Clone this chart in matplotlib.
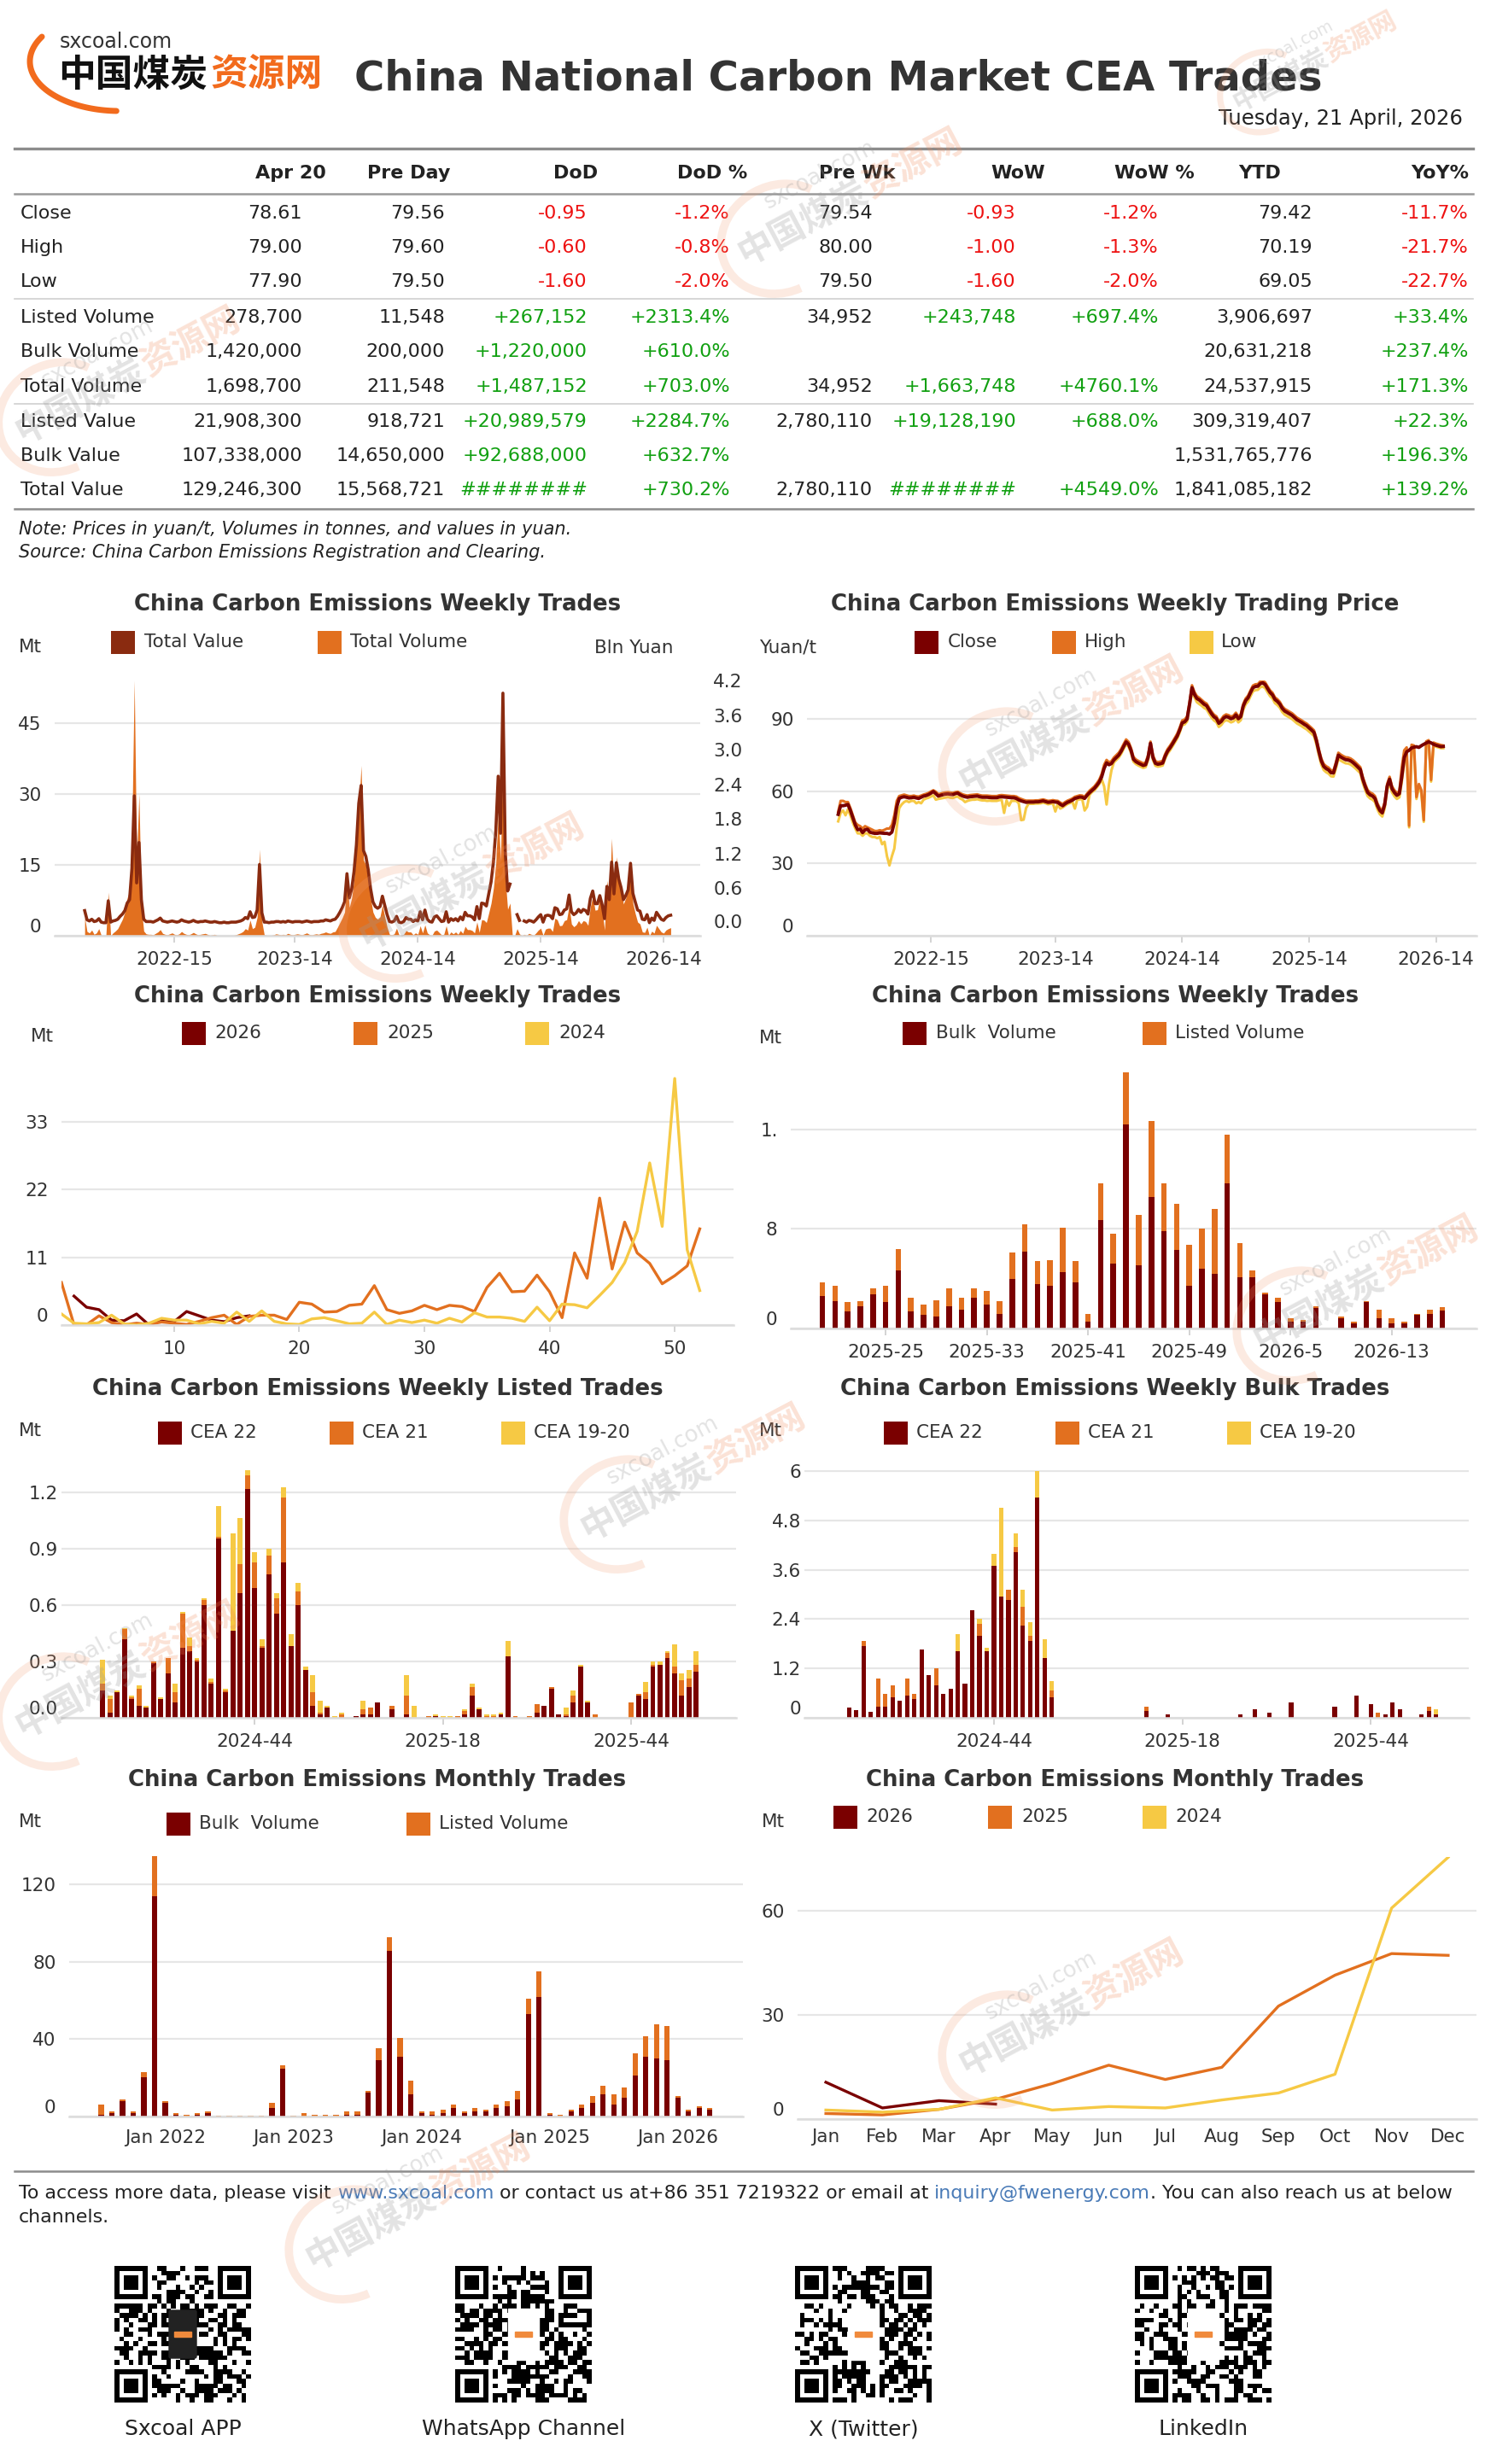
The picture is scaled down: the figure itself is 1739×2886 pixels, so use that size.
#!/usr/bin/env python3
import datetime
import hashlib

import matplotlib
matplotlib.use("Agg")
import matplotlib.pyplot as plt
import numpy as np
from matplotlib import patches

W, H = 1740, 2886
DARK = "#7a0000"
ORANGE = "#e2701f"
YELLOW = "#f6c944"
BROWN = "#8a2b10"
TEXT = "#333333"
GRID = "#e6e6e6"
RED = "#ee1111"
GREEN = "#11a011"
CJK = ["Noto Sans CJK SC", "DejaVu Sans"]

plt.rcParams["font.family"] = ["DejaVu Sans"]

# ---------------- table ----------------
table_columns = ["Apr 20", "Pre Day", "DoD", "DoD %", "Pre Wk", "WoW", "WoW %", "YTD", "YoY%"]
table_rows = ["Close", "High", "Low", "Listed Volume", "Bulk Volume", "Total Volume",
              "Listed Value", "Bulk Value", "Total Value"]
table_values = [
    ["78.61", "79.56", "-0.95", "-1.2%", "79.54", "-0.93", "-1.2%", "79.42", "-11.7%"],
    ["79.00", "79.60", "-0.60", "-0.8%", "80.00", "-1.00", "-1.3%", "70.19", "-21.7%"],
    ["77.90", "79.50", "-1.60", "-2.0%", "79.50", "-1.60", "-2.0%", "69.05", "-22.7%"],
    ["278,700", "11,548", "+267,152", "+2313.4%", "34,952", "+243,748", "+697.4%", "3,906,697", "+33.4%"],
    ["1,420,000", "200,000", "+1,220,000", "+610.0%", "", "", "", "20,631,218", "+237.4%"],
    ["1,698,700", "211,548", "+1,487,152", "+703.0%", "34,952", "+1,663,748", "+4760.1%", "24,537,915", "+171.3%"],
    ["21,908,300", "918,721", "+20,989,579", "+2284.7%", "2,780,110", "+19,128,190", "+688.0%", "309,319,407", "+22.3%"],
    ["107,338,000", "14,650,000", "+92,688,000", "+632.7%", "", "", "", "1,531,765,776", "+196.3%"],
    ["129,246,300", "15,568,721", "########", "+730.2%", "2,780,110", "########", "+4549.0%", "1,841,085,182", "+139.2%"],
]

# ---------------- weekly series (2021-29 .. 2026-17) ----------------
start_week = datetime.date(2021, 7, 19)
week_labels = []
for i in range(249):
    iso = (start_week + datetime.timedelta(weeks=i)).isocalendar()
    week_labels.append(f"{iso[0]}-{iso[1]}")

# total volume, Mt, 2021-29 .. 2023-52
vol_2021_23 = [
    3.9, 0.9, 0.6, 1.2, 0.3, 0.6, 1.5, 0.1, 0.0, 0.0,
    9.2, 0.0, 0.6, 1.0, 1.5, 2.5, 3.5, 5.0, 8.0, 9.5,
    22.0, 54.0, 16.0, 30.0, 6.0, 1.0, 0.4, 0.3, 0.3, 0.2,
    0.5, 0.8, 1.3, 0.5, 0.3, 0.2, 0.4, 0.6, 0.3, 0.2,
    0.4, 0.9, 0.5, 0.3, 0.2, 0.4, 0.7, 0.4, 0.2, 0.3,
    0.4, 0.5, 0.3, 0.1, 0.2, 0.3, 0.1, 0.0, 0.0, 0.1,
    0.0, 0.0, 0.1, 0.1, 0.2, 0.4, 0.6, 0.9, 1.5, 1.2,
    3.3, 1.5, 1.8, 3.9, 18.3, 3.0, 0.2, 0.1, 0.0, 0.1,
    0.2, 0.4, 0.3, 0.2, 0.3, 0.2, 0.5, 0.3, 0.2, 0.3,
    0.4, 0.3, 0.2, 0.4, 0.6, 0.3, 0.2, 0.3, 0.4, 0.3,
    0.5, 0.6, 0.8, 0.6, 0.5, 0.8, 0.9, 1.8, 2.8, 3.8,
    5.0, 12.0, 6.0, 8.0, 12.0, 18.0, 27.0, 36.0, 16.0, 15.0,
    12.0, 8.0, 5.0, 3.9, 3.5, 4.0, 6.5, 4.0,
]
# weekly volume by ISO week, Mt
vol_2024 = [
    1.8, 0.3, 0.2, 0.4, 1.6, 0.2, 0.0, 0.3, 1.1, 0.8,
    0.8, 0.2, 0.6, 0.3, 2.1, 0.6, 2.3, 0.6, 0.2, 0.1,
    1.0, 1.2, 0.7, 0.2, 0.3, 2.1, 0.1, 0.8, 0.4, 0.8,
    0.3, 1.1, 0.5, 2.0, 1.3, 1.3, 1.1, 0.6, 2.9, 0.7,
    3.4, 3.3, 2.8, 4.8, 6.9, 10.1, 15.2, 26.3, 16.0, 40.0,
    12.2, 5.6,
]
vol_2025_early = [6.9, 0.05, 0.05, 1.5, 0.4, 0.05, 0.3, 0.1, 0.5, 0.3,
                  0.1, 0.6, 1.2, 1.6, 0.1, 1.4, 1.6, 1.6, 0.9]
# 2025-20 .. 2026-17, Mt
bulk_recent = [
    2.6, 2.2, 1.4, 1.8, 2.75, 2.1, 4.7, 1.4, 1.1, 0.96,
    1.8, 1.5, 2.5, 1.9, 1.2, 4.0, 6.2, 3.6, 3.4, 4.5,
    3.7, 0.55, 8.7, 5.2, 16.4, 5.1, 10.6, 7.8, 6.3, 3.4,
    4.8, 4.4, 11.7, 4.1, 4.1, 2.75, 2.1, 0.55, 0.55, 1.65,
    0.0, 0.8, 0.4, 2.1, 0.8, 0.4, 0.4, 1.1, 1.2, 1.42,
]
listed_recent = [
    1.1, 1.2, 0.7, 0.4, 0.45, 1.3, 1.7, 1.1, 0.8, 1.34,
    1.4, 1.0, 0.7, 1.1, 1.0, 2.1, 2.2, 1.8, 2.1, 3.6,
    1.7, 0.65, 3.0, 2.4, 4.2, 4.0, 6.1, 3.9, 3.7, 3.3,
    3.2, 5.2, 3.9, 2.8, 0.6, 0.15, 0.4, 0.25, 0.15, 0.15,
    0.0, 0.16, 0.15, 0.1, 0.7, 0.4, 0.15, 0.1, 0.3, 0.28,
]
# total value, bln yuan
value_2021_23 = [
    0.21, 0.05, 0.03, 0.06, 0.02, 0.03, 0.07, 0.01, 0.0, 0.0,
    0.38, 0.01, 0.03, 0.04, 0.06, 0.11, 0.15, 0.21, 0.34, 0.40,
    0.94, 2.2, 0.69, 1.39, 0.40, 0.06, 0.02, 0.02, 0.02, 0.01,
    0.03, 0.05, 0.08, 0.03, 0.02, 0.01, 0.02, 0.03, 0.02, 0.01,
    0.02, 0.05, 0.03, 0.02, 0.01, 0.02, 0.04, 0.02, 0.01, 0.02,
    0.02, 0.03, 0.02, 0.01, 0.01, 0.02, 0.01, 0.0, 0.0, 0.01,
    0.0, 0.0, 0.01, 0.01, 0.01, 0.02, 0.03, 0.05, 0.09, 0.07,
    0.19, 0.09, 0.10, 0.22, 1.01, 0.17, 0.01, 0.01, 0.0, 0.01,
    0.01, 0.02, 0.02, 0.01, 0.02, 0.01, 0.03, 0.02, 0.01, 0.02,
    0.02, 0.02, 0.01, 0.02, 0.03, 0.02, 0.01, 0.02, 0.02, 0.02,
    0.03, 0.03, 0.05, 0.04, 0.03, 0.05, 0.06, 0.11, 0.18, 0.26,
    0.36, 0.85, 0.43, 0.58, 0.89, 1.35, 2.07, 2.38, 1.25, 1.15,
    0.92, 0.59, 0.36, 0.28, 0.25, 0.28, 0.46, 0.30,
]
value_2024 = [
    0.14, 0.02, 0.01, 0.03, 0.11, 0.01, 0.0, 0.02, 0.09, 0.06,
    0.06, 0.02, 0.05, 0.03, 0.19, 0.05, 0.22, 0.06, 0.02, 0.01,
    0.10, 0.12, 0.07, 0.02, 0.03, 0.19, 0.01, 0.07, 0.04, 0.07,
    0.03, 0.10, 0.05, 0.18, 0.12, 0.12, 0.10, 0.05, 0.28, 0.07,
    0.34, 0.33, 0.29, 0.50, 0.71, 1.06, 1.60, 2.54, 1.55, 3.98,
    1.22, 0.55,
]
value_2025_early = [0.67, None, None, 0.14, 0.04, None, 0.03, 0.01, 0.04, 0.03,
                    0.01, 0.05, 0.10, 0.14, 0.01, 0.12, 0.13, 0.12, 0.07]
value_recent = [
    0.26, 0.24, 0.14, 0.15, 0.22, 0.24, 0.48, 0.19, 0.14, 0.17,
    0.23, 0.18, 0.23, 0.21, 0.15, 0.42, 0.55, 0.33, 0.33, 0.47,
    0.31, 0.07, 0.63, 0.40, 1.05, 0.50, 1.04, 0.76, 0.61, 0.40,
    0.47, 0.57, 1.03, 0.51, 0.36, 0.22, 0.20, 0.06, 0.05, 0.14,
    0.0, 0.08, 0.04, 0.18, 0.12, 0.06, 0.04, 0.09, 0.12, 0.13,
]
# weekly prices, yuan/t
close_px = [
    50.4, 54.0, 54.0, 54.2, 54.5, 52.0, 49.0, 46.0, 44.0, 44.3,
    42.8, 44.0, 44.2, 43.0, 42.7, 42.5, 42.5, 42.7, 42.6, 42.5,
    42.5, 42.2, 43.0, 47.0, 53.5, 57.0, 57.5, 57.7, 57.5, 57.2,
    57.3, 57.5, 57.2, 57.0, 57.5, 58.0, 58.2, 58.6, 59.2, 59.9,
    59.0, 58.0, 58.3, 58.6, 58.8, 58.9, 58.7, 58.6, 59.0, 59.2,
    58.5, 58.0, 57.7, 57.5, 57.7, 57.8, 57.9, 58.0, 57.7, 57.5,
    57.5, 57.5, 57.4, 57.3, 57.3, 57.3, 57.6, 57.7, 57.6, 57.5,
    57.4, 57.3, 57.3, 57.0, 56.4, 56.0, 55.7, 55.4, 55.5, 55.5,
    55.5, 55.6, 55.6, 55.8, 56.0, 55.7, 55.4, 55.5, 55.7, 55.5,
    55.4, 54.6, 54.0, 54.8, 55.4, 55.8, 56.3, 57.0, 57.3, 57.6,
    57.5, 57.0, 58.3, 59.4, 60.3, 61.2, 62.4, 63.8, 66.0, 69.5,
    71.8, 71.0, 71.5, 73.0, 74.0, 75.0, 76.6, 78.6, 80.5, 79.5,
    77.0, 73.3, 72.3, 71.7, 71.2, 70.7, 71.0, 74.0, 79.9, 74.0,
    71.6, 71.2, 71.4, 71.7, 74.5, 76.6, 78.0, 79.6, 81.3, 83.0,
    85.5, 88.4, 88.8, 90.0, 96.0, 103.0, 100.2, 98.5, 97.9, 97.0,
    96.1, 95.5, 93.8, 92.2, 90.9, 90.2, 88.2, 89.0, 90.4, 91.0,
    90.7, 90.1, 90.5, 91.7, 90.1, 91.0, 95.3, 97.6, 98.8, 101.0,
    103.0, 103.5, 103.6, 104.7, 105.0, 104.3, 102.6, 101.0, 100.0, 98.1,
    97.3, 96.2, 94.4, 93.3, 92.7, 92.1, 91.5, 90.6, 89.7, 89.1,
    88.5, 87.8, 87.2, 86.3, 85.4, 84.4, 81.0, 76.5, 72.6, 70.3,
    69.4, 68.8, 67.7, 67.6, 71.0, 75.0, 74.2, 73.6, 73.1, 73.0,
    72.6, 71.9, 71.0, 70.0, 69.0, 65.0, 62.0, 59.5, 58.5, 58.0,
    57.0, 54.0, 52.0, 51.0, 54.5, 62.0, 65.0, 61.0, 59.4, 58.3,
    59.0, 66.0, 74.0, 76.4, 77.0, 78.0, 78.3, 78.5, 78.2, 78.9,
    79.5, 80.0, 80.5, 80.1, 79.5, 79.1, 78.8, 78.5, 78.6,
]
high_px = [
    51.5, 56.0, 56.0, 55.5, 55.5, 53.0, 50.0, 47.0, 46.0, 45.5,
    44.5, 45.5, 45.0, 44.5, 44.0, 43.5, 43.5, 43.8, 43.6, 44.0,
    44.5, 44.5, 46.0, 50.0, 56.0, 58.0, 58.3, 58.6, 58.3, 58.0,
    58.0, 58.2, 57.9, 57.8, 58.2, 58.6, 58.9, 59.3, 59.9, 60.4,
    59.8, 58.8, 59.0, 59.3, 59.5, 59.6, 59.4, 59.3, 59.6, 59.8,
    59.2, 58.7, 58.4, 58.2, 58.4, 58.5, 58.6, 58.7, 58.4, 58.2,
    58.2, 58.2, 58.1, 58.0, 58.0, 58.0, 58.3, 58.4, 58.3, 58.2,
    58.1, 58.0, 58.0, 57.8, 57.2, 56.8, 56.4, 56.1, 56.1, 56.1,
    56.1, 56.2, 56.2, 56.4, 56.6, 56.3, 56.0, 56.1, 56.3, 56.1,
    56.0, 55.3, 54.8, 55.5, 56.1, 56.5, 57.0, 57.7, 58.0, 58.3,
    58.2, 57.7, 59.0, 60.2, 61.1, 62.0, 63.3, 64.8, 67.2, 71.0,
    73.0, 72.0, 72.5, 74.0, 75.0, 76.0, 77.6, 79.6, 81.5, 80.5,
    78.0, 74.3, 73.2, 72.6, 72.1, 71.6, 71.9, 75.0, 80.6, 75.0,
    72.5, 72.1, 72.3, 72.6, 75.4, 77.5, 78.9, 80.5, 82.2, 84.0,
    86.5, 89.4, 89.8, 91.0, 97.0, 104.0, 101.2, 99.5, 98.8, 97.9,
    97.0, 96.4, 94.7, 93.1, 91.8, 91.1, 89.1, 89.9, 91.3, 91.9,
    91.6, 91.0, 91.4, 92.6, 91.0, 91.9, 96.2, 98.5, 99.7, 101.9,
    103.9, 104.4, 104.5, 105.6, 105.9, 105.2, 103.5, 101.9, 100.9, 99.0,
    98.2, 97.1, 95.3, 94.2, 93.6, 93.0, 92.4, 91.5, 90.6, 90.0,
    89.4, 88.7, 88.1, 87.2, 86.3, 85.3, 82.0, 77.5, 73.6, 71.3,
    70.4, 69.8, 68.7, 68.6, 72.0, 76.0, 75.2, 74.6, 74.1, 74.0,
    73.6, 72.9, 72.0, 71.0, 70.0, 66.0, 63.0, 60.5, 59.5, 59.0,
    58.0, 55.0, 53.0, 52.0, 55.5, 63.0, 66.0, 62.0, 60.4, 59.3,
    60.0, 70.0, 77.0, 78.2, 45.7, 79.3, 79.0, 57.6, 63.0, 60.5,
    48.0, 80.7, 81.2, 64.7, 80.2, 79.8, 79.5, 79.2, 79.0,
]
low_px = [
    47.5, 51.0, 52.0, 50.0, 52.5, 50.0, 47.0, 44.5, 42.5, 42.5,
    41.5, 42.5, 42.5, 41.5, 41.0, 41.0, 40.5, 41.0, 38.0, 39.0,
    33.0, 29.2, 33.0, 36.2, 45.0, 53.0, 54.5, 55.5, 56.0, 55.5,
    56.0, 56.0, 55.0, 55.5, 55.0, 56.5, 57.0, 57.3, 57.8, 58.3,
    56.5, 56.8, 57.0, 57.2, 57.4, 57.6, 57.3, 57.2, 57.6, 57.8,
    57.0, 56.5, 55.5, 56.0, 56.3, 56.5, 56.5, 56.7, 56.4, 56.2,
    56.2, 56.0, 56.1, 56.0, 56.0, 56.0, 56.3, 56.4, 51.0, 56.2,
    54.0, 56.0, 56.0, 56.0, 55.0, 48.0, 48.2, 53.0, 54.8, 54.8,
    54.8, 54.9, 54.9, 55.0, 55.3, 55.0, 54.6, 54.8, 55.0, 51.6,
    54.7, 52.8, 53.3, 54.0, 54.7, 55.1, 55.6, 52.8, 56.6, 56.6,
    56.8, 52.0, 53.5, 58.5, 59.6, 60.4, 61.6, 63.0, 65.0, 62.0,
    54.5, 63.0, 68.7, 72.0, 73.0, 74.0, 75.6, 77.6, 79.5, 78.5,
    76.0, 72.3, 71.3, 70.7, 70.2, 69.7, 70.0, 73.0, 78.9, 73.0,
    70.6, 70.2, 70.4, 70.7, 73.5, 75.6, 77.0, 78.6, 80.3, 82.0,
    84.5, 87.4, 87.8, 89.0, 95.0, 101.5, 99.0, 97.0, 96.2, 95.5,
    94.6, 94.0, 92.3, 90.7, 89.4, 88.7, 86.7, 87.5, 88.9, 89.5,
    89.2, 88.6, 89.0, 90.2, 88.6, 89.5, 93.8, 96.1, 97.3, 99.5,
    101.5, 102.0, 102.1, 103.2, 103.5, 102.8, 101.1, 99.5, 98.5, 96.6,
    95.8, 94.7, 92.9, 91.8, 91.2, 90.6, 90.0, 89.1, 88.2, 87.6,
    87.0, 86.3, 85.7, 84.8, 83.9, 82.9, 79.5, 75.0, 71.1, 68.8,
    67.9, 67.3, 66.2, 66.1, 69.5, 73.5, 72.7, 72.1, 71.6, 71.5,
    71.1, 70.4, 69.5, 68.5, 67.5, 63.5, 60.5, 58.0, 57.0, 56.5,
    55.5, 52.5, 50.5, 49.5, 53.0, 60.5, 63.5, 59.5, 57.9, 56.8,
    57.5, 64.0, 72.0, 75.5, 45.0, 76.5, 77.3, 56.8, 61.5, 59.4,
    47.3, 79.5, 80.0, 64.0, 79.0, 78.5, 78.2, 77.9, 77.9,
]

# ---------------- vintages 2024-23 .. 2026-01 (Mt) ----------------
cea22_listed = [
    0.145, 0.027, 0.136, 0.418, 0.1, 0.064, 0.055, 0.29, 0.1, 0.236,
    0.082, 0.373, 0.355, 0.3, 0.6, 0.182, 0.955, 0.136, 0.464, 0.664,
    1.218, 0.691, 0.373, 0.764, 0.555, 0.827, 0.382, 0.6, 0.255, 0.064,
    0.018, 0.055, 0, 0, 0, 0.009, 0.018, 0.018, 0.082, 0,
    0.045, 0, 0.018, 0, 0, 0, 0.009, 0, 0, 0,
    0.018, 0.118, 0.045, 0, 0, 0.018, 0.327, 0, 0, 0,
    0.027, 0.064, 0.155, 0.018, 0.009, 0.082, 0.273, 0.082, 0, 0,
    0, 0, 0, 0, 0.118, 0.1, 0.273, 0.282, 0.318, 0.236,
    0.118, 0.164, 0.245,
]
cea21_listed = [
    0.035, 0.073, 0, 0.055, 0.009, 0.091, 0, 0.01, 0, 0.082,
    0.054, 0.182, 0.027, 0.009, 0.027, 0.009, 0.009, 0.009, 0, 0.154,
    0.073, 0.136, 0.009, 0.1, 0.081, 0.346, 0, 0.073, 0, 0.072,
    0.009, 0, 0, 0.018, 0, 0, 0.027, 0.037, 0, 0,
    0.019, 0, 0.1, 0, 0, 0.009, 0, 0, 0, 0.009,
    0.018, 0.046, 0, 0.009, 0.009, 0, 0, 0.009, 0, 0.009,
    0.046, 0, 0.009, 0, 0.009, 0.036, 0, 0, 0.018, 0,
    0, 0, 0, 0.082, 0.009, 0.036, 0.009, 0, 0.027, 0.037,
    0.082, 0.045, 0.037,
]
cea1920_listed = [
    0.13, 0.018, 0.009, 0.007, 0.009, 0.018, 0.009, 0, 0.009, 0,
    0.046, 0.009, 0.045, 0.009, 0.009, 0.018, 0.163, 0.01, 0.518, 0.246,
    0.027, 0.055, 0.036, 0.036, 0.028, 0.054, 0.063, 0.045, 0.018, 0.091,
    0.064, 0.009, 0.009, 0.009, 0, 0, 0.046, 0, 0, 0,
    0, 0, 0.109, 0.064, 0, 0, 0.009, 0.009, 0.009, 0,
    0.009, 0.018, 0.01, 0.009, 0.009, 0.009, 0.082, 0, 0, 0,
    0, 0, 0, 0, 0.037, 0.027, 0.009, 0.009, 0, 0,
    0, 0, 0, 0, 0, 0.055, 0.018, 0.018, 0.01, 0.118,
    0.036, 0.046, 0.073,
]
cea22_bulk = [
    0, 0.24, 0.19, 1.74, 0.15, 0.28, 0.28, 0.49, 0.41, 0.53,
    0.45, 1.66, 1.03, 0.78, 0.58, 0.70, 1.61, 0.82, 2.61, 1.99,
    1.61, 3.69, 2.94, 2.86, 4.03, 2.24, 1.86, 5.36, 1.45, 0.49,
    0, 0, 0, 0, 0, 0, 0, 0, 0, 0,
    0, 0, 0.16, 0, 0, 0.08, 0, 0, 0, 0,
    0, 0, 0, 0, 0, 0.08, 0, 0.2, 0, 0.12,
    0, 0, 0.37, 0, 0, 0, 0, 0, 0.28, 0,
    0, 0.53, 0, 0.33, 0, 0.08, 0.37, 0.2, 0, 0,
    0.08, 0.16, 0.08,
]
cea21_bulk = [
    0, 0, 0, 0.12, 0, 0.67, 0.30, 0.29, 0, 0.42,
    0.13, 0, 0, 0.42, 0, 0, 0, 0, 0, 0.29,
    0, 0, 0, 0.25, 0.12, 0.46, 0.13, 0, 0, 0.17,
    0, 0, 0, 0, 0, 0, 0, 0, 0, 0,
    0, 0, 0.12, 0, 0, 0, 0, 0, 0, 0,
    0, 0, 0, 0, 0, 0, 0, 0, 0, 0,
    0, 0, 0, 0, 0, 0, 0, 0, 0, 0,
    0, 0, 0, 0, 0.12, 0, 0, 0, 0, 0,
    0, 0.12, 0,
]
cea1920_bulk = [
    0, 0, 0, 0, 0, 0, 0, 0, 0, 0,
    0, 0, 0, 0, 0, 0, 0.42, 0, 0, 0.12,
    0.09, 0.29, 2.16, 0, 0.33, 0.41, 0.33, 0.64, 0.45, 0.24,
    0, 0, 0, 0, 0, 0, 0, 0, 0, 0,
    0, 0, 0, 0, 0, 0, 0, 0, 0, 0,
    0, 0, 0, 0, 0, 0, 0, 0, 0, 0,
    0, 0, 0, 0, 0, 0, 0, 0, 0, 0,
    0, 0, 0, 0, 0, 0, 0, 0, 0, 0,
    0, 0, 0.12,
]

# ---------------- monthly (Jul 2021 .. Apr 2026), Mt ----------------
bulk_monthly = [
    1.0, 1.9, 8.1, 1.9, 20.4, 113.8, 7.2, 1.0, 0.0, 1.0,
    1.9, 0.0, 0.0, 0.0, 0.0, 0.0, 4.6, 24.9, 0.0, 0.0,
    0.0, 0.0, 0.0, 1.0, 1.0, 12.5, 29.3, 85.7, 31.0, 11.6,
    1.9, 1.0, 1.9, 4.6, 1.9, 2.8, 2.8, 4.6, 5.4, 9.0,
    53.1, 61.9, 1.0, 0.0, 2.8, 4.6, 7.2, 11.6, 6.3, 9.9,
    21.3, 31.0, 30.1, 29.3, 9.9, 2.8, 4.6, 3.7,
]
listed_monthly = [
    5.2, 0.9, 0.9, 0.9, 2.5, 21.2, 0.9, 0.9, 1.0, 0.9,
    0.9, 0.6, 0.6, 0.6, 0.5, 0.6, 2.6, 1.7, 0.3, 1.9,
    1.0, 1.0, 1.0, 1.8, 1.8, 0.9, 6.1, 7.1, 9.7, 7.1,
    0.9, 1.8, 1.8, 1.7, 0.9, 1.8, 0.9, 1.7, 2.7, 4.4,
    7.9, 13.2, 0.9, 1.0, 0.9, 1.7, 3.5, 4.4, 5.3, 5.2,
    11.5, 10.6, 17.7, 17.6, 0.8, 0.9, 0.8, 0.9,
]
month_names = ["Jan", "Feb", "Mar", "Apr", "May", "Jun", "Jul", "Aug", "Sep", "Oct", "Nov", "Dec"]
monthly_labels = [f"{month_names[(6 + i) % 12]} {2021 + (6 + i) // 12}" for i in range(58)]
monthly_2026 = [10.6, 3.2, 5.3, 4.3]
monthly_2025 = [1.6, 1.2, 2.8, 5.7, 10.2, 15.5, 11.4, 14.9, 32.5, 41.4, 47.6, 47.1]
monthly_2024 = [2.6, 2.0, 2.8, 6.1, 2.6, 3.6, 3.2, 5.5, 7.5, 12.9, 60.7, 75.3]

# derived series
total_recent = [b + l for b, l in zip(bulk_recent, listed_recent)]
total_vol = np.array(vol_2021_23 + vol_2024 + vol_2025_early + total_recent, dtype=float)
total_value = np.array([np.nan if v is None else v for v in
                        value_2021_23 + value_2024 + value_2025_early + value_recent], dtype=float)
weekly_2025 = vol_2025_early + total_recent[:33]
weekly_2026 = total_recent[34:49]
recent_labels = week_labels[199:]
vintage_labels = week_labels[150:233]

# ---------------- figure ----------------
fig = plt.figure(figsize=(W / 100, H / 100), dpi=100)
canvas = fig.add_axes([0, 0, 1, 1])
canvas.set_xlim(0, W)
canvas.set_ylim(H, 0)
canvas.set_autoscale_on(False)
canvas.set_axis_off()
renderer = fig.canvas.get_renderer()


def text_width(s, **kw):
    t = canvas.text(0, 0, s, **kw)
    w = t.get_window_extent(renderer=renderer).width
    t.remove()
    return w


def chart_axes(x0, y0, x1, y1, ypad=11):
    ax = fig.add_axes([x0 / W, 1 - y1 / H, (x1 - x0) / W, (y1 - y0) / H])
    ax.set_facecolor("none")
    for side in ("top", "right", "left"):
        ax.spines[side].set_visible(False)
    ax.spines["bottom"].set_color("#dcdcdc")
    ax.spines["bottom"].set_linewidth(1.8)
    ax.yaxis.grid(True, color=GRID, linewidth=1.6)
    ax.set_axisbelow(True)
    ax.tick_params(axis="y", length=0, pad=ypad, labelsize=15.5, labelcolor=TEXT)
    ax.tick_params(axis="x", length=6, width=1.2, color="#cccccc", pad=7,
                   labelsize=15.5, labelcolor=TEXT)
    return ax


def set_yaxis(ax, lim, ticks, labels):
    ax.set_ylim(*lim)
    ax.set_yticks(ticks)
    ax.set_yticklabels(labels)
    ax.get_yticklabels()[0].set_va("bottom")


def title(cx, cy, s):
    canvas.text(cx, cy, s, ha="center", va="center", fontsize=18.7,
                weight="bold", color=TEXT)


def legend(items, cy):
    for px, lx, label, color in items:
        canvas.add_patch(patches.Rectangle((px, cy - 13.5), 28, 27, color=color, lw=0))
        canvas.text(lx, cy, label, ha="left", va="center", fontsize=15.5, color=TEXT)


def unit(x, y, s, ha="left"):
    canvas.text(x, y, s, ha=ha, va="center", fontsize=15.5, color=TEXT)


# ---------------- header ----------------
logo_t = np.linspace(np.deg2rad(150), np.deg2rad(268), 60)
canvas.plot(140 + 105 * np.cos(logo_t), 72 - 58 * np.sin(logo_t),
            color="#f26b1d", lw=5, solid_capstyle="round")
canvas.text(70, 49, "sxcoal.com", ha="left", va="center", fontsize=17, color="#333333")
canvas.text(68, 88, "中国煤炭", ha="left", va="center", fontsize=31.5, weight="bold",
            color="#111111", family=CJK)
canvas.text(247, 88, "资源网", ha="left", va="center", fontsize=31.5, weight="bold",
            color="#f26b1d", family=CJK)

main_title = "China National Carbon Market CEA Trades"
tw = text_width(main_title, fontsize=34, weight="bold")
canvas.text(415, 92, main_title, ha="left", va="center", fontsize=34 * 1135 / tw,
            weight="bold", color=TEXT)
canvas.text(1713, 139, "Tuesday, 21 April, 2026", ha="right", va="center",
            fontsize=17.5, color="#222222")

# ---------------- table ----------------
row_y = [250, 290, 330, 372, 412, 453, 494, 534, 574]
value_right = [354, 521, 688, 855, 1022, 1190, 1357, 1537, 1720]
header_right = [382, 527, 700, 875, 1048, 1224, 1399, 1500, 1720]
colored_cols = {2, 3, 5, 6, 8}
for x, h in zip(header_right, table_columns):
    canvas.text(x, 203, h, ha="right", va="center", fontsize=16, weight="bold", color="#222222")
for y, name, vals in zip(row_y, table_rows, table_values):
    canvas.text(24, y, name, ha="left", va="center", fontsize=16, color="#222222")
    for j, (x, v) in enumerate(zip(value_right, vals)):
        color = "#222222"
        if j in colored_cols and v:
            color = RED if v.startswith("-") else GREEN
        canvas.text(x, y, v, ha="right", va="center", fontsize=16, color=color)
for y, c, lw in [(174, "#8c8c8c", 2.4), (227, "#9a9a9a", 1.8), (350, "#d0d0d0", 1.2),
                 (473, "#d0d0d0", 1.2), (596, "#8c8c8c", 1.8), (2543, "#8c8c8c", 1.8)]:
    canvas.plot([17, 1725], [y, y], color=c, lw=lw)
canvas.text(22, 620, "Note: Prices in yuan/t, Volumes in tonnes, and values in yuan.",
            ha="left", va="center", fontsize=15, style="italic", color="#222222")
canvas.text(22, 647, "Source: China Carbon Emissions Registration and Clearing.",
            ha="left", va="center", fontsize=15, style="italic", color="#222222")

weekly_x = np.arange(len(week_labels))
long_ticks = ["2022-15", "2023-14", "2024-14", "2025-14", "2026-14"]
long_pos = [week_labels.index(t) for t in long_ticks]

# ---------------- chart 1: weekly trades ----------------
title(442, 708, "China Carbon Emissions Weekly Trades")
legend([(130, 169, "Total Value", BROWN), (372, 410, "Total Volume", ORANGE)], 752)
unit(22, 758, "Mt")
unit(789, 759, "Bln Yuan", ha="right")
ax1 = chart_axes(64, 797, 820, 1096)
ax1.fill_between(weekly_x, total_vol, color=ORANGE, linewidth=0)
ax1.set_xlim(-12.7, 260.5)
set_yaxis(ax1, (0, 54), [0, 15, 30, 45], ["0", "15", "30", "45"])
ax1.set_xticks(long_pos)
ax1.set_xticklabels(long_ticks)
ax1r = ax1.twinx()
for side in ax1r.spines:
    ax1r.spines[side].set_visible(False)
ax1r.plot(weekly_x, total_value, color=BROWN, lw=2.6)
ax1r.tick_params(axis="y", length=0, pad=11, labelsize=15.5, labelcolor=TEXT)
right_ticks = [0.0, 0.6, 1.2, 1.8, 2.4, 3.0, 3.6, 4.2]
set_yaxis(ax1r, (-0.226, 4.2), right_ticks, [f"{t:.1f}" for t in right_ticks])
ax1r.get_yticklabels()[0].set_va("center")

# ---------------- chart 2: weekly price ----------------
title(1306, 708, "China Carbon Emissions Weekly Trading Price")
legend([(1071, 1110, "Close", DARK), (1232, 1270, "High", ORANGE), (1393, 1430, "Low", YELLOW)], 752)
unit(889, 759, "Yuan/t")
ax2 = chart_axes(945, 797, 1729, 1096)
ax2.plot(weekly_x, low_px, color=YELLOW, lw=2.2)
ax2.plot(weekly_x, high_px, color=ORANGE, lw=2.2)
ax2.plot(weekly_x, close_px, color=DARK, lw=2.8)
ax2.set_xlim(-12.8, 261.6)
set_yaxis(ax2, (0, 106), [0, 30, 60, 90], ["0", "30", "60", "90"])
ax2.set_xticks(long_pos)
ax2.set_xticklabels(long_ticks)

# ---------------- chart 3: weekly by year ----------------
title(442, 1167, "China Carbon Emissions Weekly Trades")
legend([(213, 251, "2026", DARK), (414, 453, "2025", ORANGE), (615, 654, "2024", YELLOW)], 1210)
unit(36, 1214, "Mt")
ax3 = chart_axes(72, 1261, 859, 1552)
ax3.plot(np.arange(2, 2 + len(weekly_2026)), weekly_2026, color=DARK, lw=2.4)
ax3.plot(np.arange(1, 1 + len(weekly_2025)), weekly_2025, color=ORANGE, lw=2.4)
ax3.plot(np.arange(1, 1 + len(vol_2024)), vol_2024, color=YELLOW, lw=2.4)
ax3.set_xlim(1, 54.7)
set_yaxis(ax3, (0, 40.3), [0, 11, 22, 33], ["0", "11", "22", "33"])
ax3.set_xticks([10, 20, 30, 40, 50])

# ---------------- chart 4: bulk vs listed ----------------
title(1306, 1167, "China Carbon Emissions Weekly Trades")
legend([(1057, 1096, "Bulk  Volume", DARK), (1338, 1376, "Listed Volume", ORANGE)], 1210)
unit(889, 1216, "Mt")
ax4 = chart_axes(926, 1256, 1729, 1556)
rx = np.arange(len(recent_labels))
ax4.bar(rx, bulk_recent, 0.45, color=DARK, lw=0)
ax4.bar(rx, listed_recent, 0.45, bottom=bulk_recent, color=ORANGE, lw=0)
ax4.set_xlim(-2.5, 51.7)
set_yaxis(ax4, (0, 20.6), [0, 8, 16], ["0", "8", "1."])
recent_ticks = ["2025-25", "2025-33", "2025-41", "2025-49", "2026-5", "2026-13"]
ax4.set_xticks([recent_labels.index(t) for t in recent_ticks])
ax4.set_xticklabels(recent_ticks)

# ---------------- charts 5/6: vintages ----------------
vx = np.arange(len(vintage_labels))
vintage_ticks = ["2024-44", "2025-18", "2025-44"]
vintage_pos = [vintage_labels.index(t) for t in vintage_ticks]


def vintage_chart(ax, a, b, c, width):
    a = np.array(a)
    b = np.array(b)
    ax.bar(vx, a, width, color=DARK, lw=0)
    ax.bar(vx, b, width, bottom=a, color=ORANGE, lw=0)
    ax.bar(vx, c, width, bottom=a + b, color=YELLOW, lw=0)
    ax.set_xticks(vintage_pos)
    ax.set_xticklabels(vintage_ticks)


title(442, 1627, "China Carbon Emissions Weekly Listed Trades")
legend([(185, 223, "CEA 22", DARK), (386, 424, "CEA 21", ORANGE), (587, 625, "CEA 19-20", YELLOW)], 1678)
unit(22, 1676, "Mt")
ax5 = chart_axes(72, 1722, 862, 2012, ypad=3)
vintage_chart(ax5, cea22_listed, cea21_listed, cea1920_listed, 0.7)
ax5.set_xlim(-5.7, 87.5)
set_yaxis(ax5, (0, 1.32), [0, 0.3, 0.6, 0.9, 1.2], ["0.0", "0.3", "0.6", "0.9", "1.2"])

title(1306, 1627, "China Carbon Emissions Weekly Bulk Trades")
legend([(1035, 1073, "CEA 22", DARK), (1236, 1274, "CEA 21", ORANGE), (1437, 1475, "CEA 19-20", YELLOW)], 1678)
unit(889, 1676, "Mt")
ax6 = chart_axes(942, 1722, 1720, 2012, ypad=3)
vintage_chart(ax6, cea22_bulk, cea21_bulk, cea1920_bulk, 0.6)
ax6.set_xlim(-5.15, 86.5)
set_yaxis(ax6, (0, 6.02), [0, 1.2, 2.4, 3.6, 4.8, 6], ["0", "1.2", "2.4", "3.6", "4.8", "6"])

# ---------------- chart 7: monthly bulk vs listed ----------------
title(442, 2085, "China Carbon Emissions Monthly Trades")
legend([(195, 233, "Bulk  Volume", DARK), (476, 514, "Listed Volume", ORANGE)], 2136)
unit(22, 2134, "Mt")
ax7 = chart_axes(81, 2174, 870, 2479)
mx = np.arange(len(monthly_labels))
ax7.bar(mx, bulk_monthly, 0.5, color=DARK, lw=0)
ax7.bar(mx, listed_monthly, 0.5, bottom=bulk_monthly, color=ORANGE, lw=0)
ax7.set_xlim(-3, 60.1)
set_yaxis(ax7, (0, 134.6), [0, 40, 80, 120], ["0", "40", "80", "120"])
jan_ticks = [l for l in monthly_labels if l.startswith("Jan")]
ax7.set_xticks([monthly_labels.index(t) for t in jan_ticks])
ax7.set_xticklabels(jan_ticks)
ax7.tick_params(axis="x", length=0, pad=11)

# ---------------- chart 8: monthly by year ----------------
title(1306, 2085, "China Carbon Emissions Monthly Trades")
legend([(976, 1014, "2026", DARK), (1157, 1196, "2025", ORANGE), (1338, 1376, "2024", YELLOW)], 2128)
unit(892, 2134, "Mt")
ax8 = chart_axes(934, 2175, 1729, 2482)
ax8.plot(np.arange(len(monthly_2026)), monthly_2026, color=DARK, lw=2.4)
ax8.plot(np.arange(12), monthly_2025, color=ORANGE, lw=2.4)
ax8.plot(np.arange(12), monthly_2024, color=YELLOW, lw=2.4)
ax8.set_xlim(-0.5, 11.5)
set_yaxis(ax8, (0, 75.4), [0, 30, 60], ["0", "30", "60"])
ax8.set_xticks(np.arange(12))
ax8.set_xticklabels(month_names)
ax8.tick_params(axis="x", length=0, pad=8)

# ---------------- footer ----------------
footer_parts = [
    ("To access more data, please visit ", "#222222"),
    ("www.sxcoal.com", "#4a7bb7"),
    (" or contact us at+86 351 7219322 or email at ", "#222222"),
    ("inquiry@fwenergy.com", "#4a7bb7"),
    (". You can also reach us at below", "#222222"),
]
full_line = "".join(p for p, _ in footer_parts)
fs_footer = 15 * 1685 / text_width(full_line + "|", fontsize=15)
bar_w = text_width("|", fontsize=fs_footer)
prefix = ""
for part, color in footer_parts:
    x = 22 + (text_width(prefix + "|", fontsize=fs_footer) - bar_w if prefix else 0)
    canvas.text(x, 2569, part, ha="left", va="center", fontsize=fs_footer, color=color)
    prefix += part
canvas.text(22, 2597, "channels.", ha="left", va="center", fontsize=fs_footer, color="#222222")


def qr_code(x0, name, dark_logo):
    n = 29
    size = 160
    digest = b""
    k = 0
    while len(digest) * 8 < n * n:
        digest += hashlib.sha256(f"{name}-{k}".encode()).digest()
        k += 1
    grid = np.unpackbits(np.frombuffer(digest, dtype=np.uint8))[: n * n].reshape(n, n).astype(float)
    for r, c in [(0, 0), (0, n - 7), (n - 7, 0)]:
        grid[max(r - 1, 0):r + 8, max(c - 1, 0):c + 8] = 0
        grid[r:r + 7, c:c + 7] = 1
        grid[r + 1:r + 6, c + 1:c + 6] = 0
        grid[r + 2:r + 5, c + 2:c + 5] = 1
    y0 = 2654
    canvas.imshow(1 - grid, cmap="gray", vmin=0, vmax=1, interpolation="nearest",
                  extent=(x0, x0 + size, y0 + size, y0), aspect="auto", zorder=2)
    cx, cy = x0 + size / 2, y0 + size / 2
    if dark_logo:
        canvas.add_patch(patches.FancyBboxPatch((cx - 14, cy - 26), 28, 52,
                                                boxstyle="round,pad=2", color="#222222", zorder=3))
    else:
        canvas.add_patch(patches.Rectangle((cx - 18, cy - 30), 36, 60, color="white", zorder=3))
    canvas.add_patch(patches.Rectangle((cx - 10, cy - 3), 20, 6, color="#f08a3c", zorder=4))


qr_items = [(134, "Sxcoal APP", True), (533, "WhatsApp Channel", False),
            (931, "X (Twitter)", False), (1329, "LinkedIn", False)]
for x0, label, dark in qr_items:
    qr_code(x0, label, dark)
    canvas.text(x0 + 80, 2845, label, ha="center", va="center", fontsize=18, color="#222222")
canvas.set_xlim(0, W)
canvas.set_ylim(H, 0)

# ---------------- watermarks ----------------
wm = fig.add_axes([0, 0, 1, 1], zorder=10)
wm.set_xlim(0, W)
wm.set_ylim(H, 0)
wm.set_axis_off()
wm.set_facecolor("none")


def watermark(cx, cy, fs=30):
    ang = 28
    rad = np.deg2rad(ang)
    ux, uy = np.cos(rad), -np.sin(rad)
    nx, ny = np.sin(rad), np.cos(rad)
    step = fs * 100 / 72
    x0, y0 = cx - 3.5 * step * ux, cy - 3.5 * step * uy
    wm.add_patch(patches.Arc((x0 + 1.2 * step * ux + 0.1 * step * nx, y0 + 1.2 * step * uy + 0.1 * step * ny),
                             3.4 * step, 3.0 * step, angle=-ang, theta1=95, theta2=330,
                             color="#f4a27a", lw=7 * fs / 30, alpha=0.22))
    wm.text(x0, y0, "中国煤炭", rotation=ang, rotation_mode="anchor", ha="left", va="center",
            fontsize=fs, weight="bold", color="#9a9a9a", alpha=0.28, family=CJK)
    wm.text(x0 + 4 * step * ux, y0 + 4 * step * uy, "资源网", rotation=ang, rotation_mode="anchor",
            ha="left", va="center", fontsize=fs, weight="bold", color="#f08a5a", alpha=0.25, family=CJK)
    wm.text(x0 + 1.3 * step * ux - 0.95 * step * nx, y0 + 1.3 * step * uy - 0.95 * step * ny,
            "sxcoal.com", rotation=ang, rotation_mode="anchor", ha="left", va="center",
            fontsize=fs * 0.62, color="#9a9a9a", alpha=0.28)


watermark(1540, 72, fs=22)
for cx, cy in [(996, 231), (150, 440), (553, 1033), (1255, 849), (1600, 1504),
               (150, 1956), (812, 1725), (1255, 2352), (490, 2580)]:
    watermark(cx, cy)

fig.savefig("out.png", dpi=100)
